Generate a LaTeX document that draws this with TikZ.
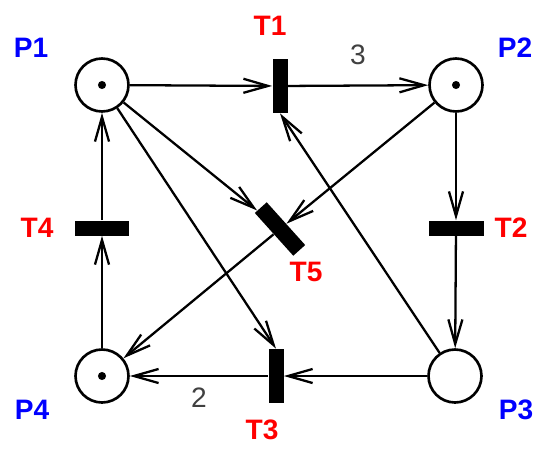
\documentclass[tikz,border=0pt]{standalone}
\usepackage{fontspec}
\setmainfont{Liberation Sans}
\usetikzlibrary{arrows.meta}

\begin{document}
\begin{tikzpicture}[
x=0.02cm,y=-0.02cm,
place/.style={circle,draw,line width=1.5pt,minimum size=1.06cm,inner sep=0pt},
marked/.style={path picture={\fill (path picture bounding box.center) circle (2.3pt);}},
trans/.style={rectangle,fill=black,inner sep=0pt},
vbar/.style={trans,minimum width=0.3cm,minimum height=1.08cm},
hbar/.style={trans,minimum width=1.1cm,minimum height=0.3cm},
flow/.style={line width=1.3pt,-{Straight Barb[length=14pt,width=8pt]}},
plab/.style={font=\fontsize{16}{19}\selectfont\bfseries,text=blue},
tlab/.style={font=\fontsize{16}{19}\selectfont\bfseries,text=red},
wt/.style={font=\fontsize{16}{19}\selectfont,text=black!75,inner sep=1pt}
]
\useasboundingbox (0,0) rectangle (537,450);

\node[place,marked] (P1) at (102,85) {};
\node[place,marked] (P2) at (456,85) {};
\node[place] (P3) at (455,376) {};
\node[place,marked] (P4) at (102,376) {};

\node[vbar] (T1) at (280,86) {};
\node[hbar] (T2) at (456,228) {};
\node[vbar] (T3) at (276,376) {};
\node[hbar] (T4) at (102,228) {};
\node[trans,minimum width=1.15cm,minimum height=0.32cm,rotate=-48] (T5) at (280,229) {};

\node[plab] (P1l) at (31,48) {P1};
\node[plab] (P2l) at (515,48) {P2};
\node[plab] (P3l) at (516,410) {P3};
\node[plab] (P4l) at (32,410) {P4};
\node[tlab] (T1l) at (270,26) {T1};
\node[tlab] (T2l) at (511,228) {T2};
\node[tlab] (T3l) at (262,430) {T3};
\node[tlab] (T4l) at (37,228) {T4};
\node[tlab] (T5l) at (306,272) {T5};

\draw[flow] (P1) -- (T1);
\draw[flow] (T1) -- node[wt,above=0.35cm] {3} (P2);
\draw[flow] (P2) -- (T2);
\draw[flow] (T2) -- (P3);
\draw[flow] (P3) -- (T3);
\draw[flow] (T3) -- node[wt,below=0.18cm] {2} (P4);
\draw[flow] (P4) -- (T4);
\draw[flow] (T4) -- (P1);
\draw[flow] (P1) -- (T5);
\draw[flow] (P2) -- (T5);
\draw[flow] (T5) -- (P4);
\draw[flow] (P1) -- (T3.north);
\draw[flow] (P3) -- (T1.south);

\end{tikzpicture}
\end{document}
